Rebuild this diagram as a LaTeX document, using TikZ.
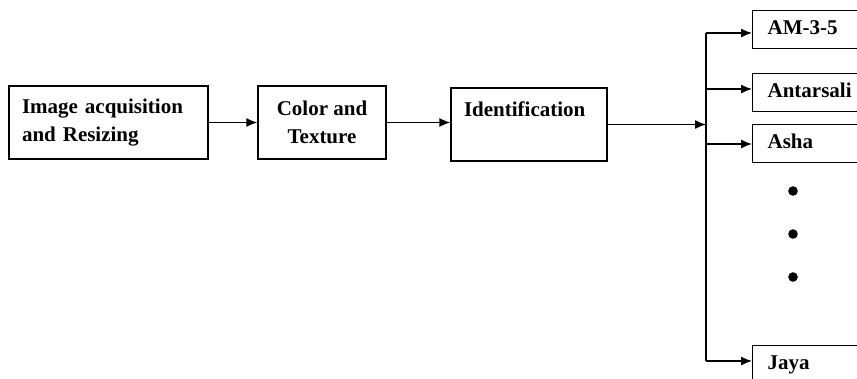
\documentclass[tikz,border=0pt]{standalone}
\usepackage{fontspec}
\setmainfont{Liberation Serif}
\usetikzlibrary{arrows.meta}

\begin{document}
\begin{tikzpicture}[x=1pt, y=-1pt, line width=1.3pt,
    >={Latex[length=11pt,width=9pt]},
    lbl/.style={font=\fontsize{21}{28}\selectfont\bfseries},
    box/.style={lbl, draw, inner xsep=13pt, minimum height=73pt},
    outbox/.style={lbl, draw, anchor=north west, minimum height=38pt,
      text width=170pt, inner xsep=15pt, align=left,
      text height=15pt, text depth=5pt}]
        \path[use as bounding box] (0,0) rectangle (857,378);
        \clip (0,0) rectangle (857,378);

        \node[box, text width=173pt, align=left] (acq) at (108.5,122.5)
          {Image acquisition\\and Resizing};
        \node[box, minimum width=128pt, align=center] (col) at (322,122.5)
          {Color and\\Texture};
        \node[box, minimum width=156pt] (ident) at (529,124.5) {};
        \node[lbl, inner sep=0pt, anchor=base west] (identtxt)
          at ([shift={(13,29)}]ident.north west) {Identification};

        \node[outbox] (am)   at (752,10)  {AM-3-5};
        \node[outbox] (ant)  at (752,73)  {Antarsali};
        \node[outbox] (asha) at (752,124) {Asha};
        \node[outbox] (jaya) at (752,345) {Jaya};

        \coordinate (split) at (706,124);

        \draw[->] (acq) -- (col);
        \draw[->] (col.east) -- (ident.west |- col.east);
        \draw[->] (ident.east) -- (ident.east -| split);

        \foreach \b/\y in {am/33, ant/89, asha/144, jaya/361} {
          \coordinate (b-\b) at (706,\y);
          \draw[->] (b-\b) -- (\b.west |- b-\b);
        }
        \draw (b-am) -- (b-jaya);

        \foreach \y in {191,234,277}
          \fill (793,\y) circle (4.8pt);
      \end{tikzpicture}
\end{document}
